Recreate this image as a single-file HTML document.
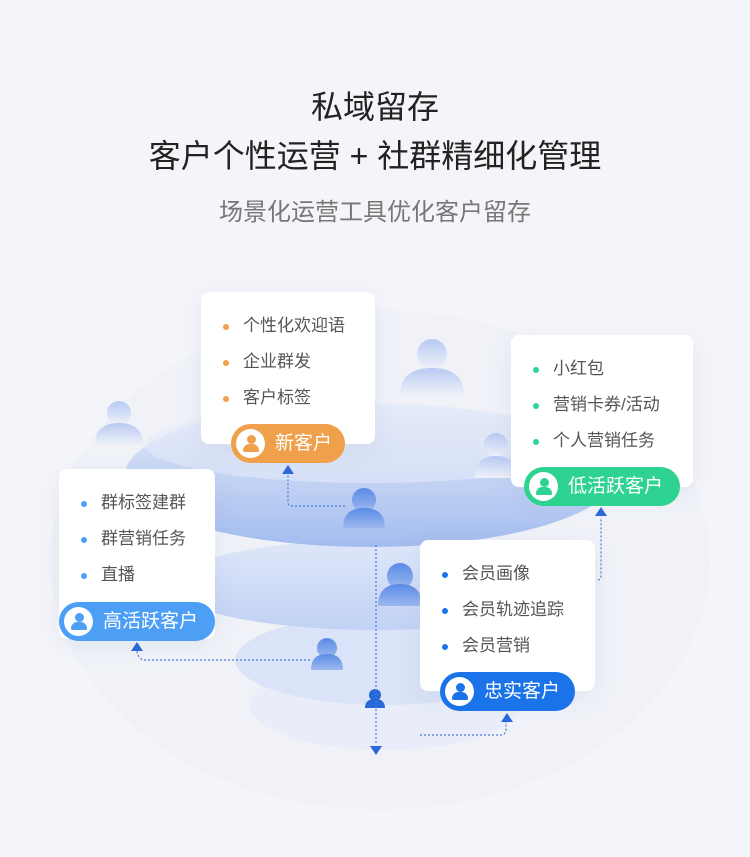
<!DOCTYPE html>
<html><head><meta charset="utf-8"><style>
body{margin:0;width:750px;height:857px;background:#f4f5f9;font-family:"Liberation Sans","Noto Sans CJK SC",sans-serif;position:relative;overflow:hidden}
.t{position:absolute;left:0;width:750px;text-align:center;color:#222}
.card{position:absolute;background:#fff;border-radius:8px;box-shadow:0 6px 24px rgba(120,140,190,.12)}
.card ul{list-style:none;margin:0;padding:0;position:absolute;left:22px;top:22px}
.card li{font-size:17px;color:#555;height:36px;line-height:24px;position:relative;padding-left:20px}
.card li:before{content:"";position:absolute;left:0;top:10px;width:6px;height:6px;border-radius:50%;background:var(--c)}
.badge{position:absolute;height:39px;border-radius:20px;color:#fff;font-size:19px;line-height:39px;box-sizing:border-box;padding-left:44px}
.badge i{position:absolute;left:5px;top:5px;width:29px;height:29px;border-radius:50%;background:#fff}
.badge i:before{content:"";position:absolute;left:11px;top:6px;width:9px;height:9px;border-radius:50%;background:var(--c)}
.badge i:after{content:"";position:absolute;left:7px;top:15px;width:16px;height:8px;border-radius:8px 8px 2px 2px;background:var(--c)}
</style></head><body>
<svg width="750" height="857" style="position:absolute;left:0;top:0">
<defs>
<linearGradient id="g1" x1="0" y1="0" x2="0" y2="1"><stop offset="0" stop-color="#e8edf9"/><stop offset="1" stop-color="#a3bcef"/></linearGradient>
<linearGradient id="g2" x1="0" y1="0" x2="0" y2="1"><stop offset="0" stop-color="#dfe7f9"/><stop offset="1" stop-color="#c2d2f4"/></linearGradient>
<linearGradient id="p" x1="0" y1="0" x2="0" y2="1"><stop offset="0" stop-color="#5a8be6"/><stop offset="1" stop-color="#9db8ef"/></linearGradient>
<linearGradient id="pl" x1="0" y1="0" x2="0" y2="1"><stop offset="0" stop-color="#b8caf2"/><stop offset="1" stop-color="#eef1f9"/></linearGradient>
</defs>
<ellipse cx="380" cy="560" rx="330" ry="250" fill="#f0f2f8"/>
<ellipse cx="385" cy="705" rx="135" ry="45" fill="#e8edf9"/>
<ellipse cx="385" cy="660" rx="150" ry="45" fill="#dae3f7"/>
<ellipse cx="375" cy="585" rx="205" ry="45" fill="url(#g2)"/>
<ellipse cx="370" cy="475" rx="245" ry="72" fill="url(#g1)"/>
<ellipse cx="370" cy="445" rx="225" ry="38" fill="#e3eaf9" opacity=".6"/>
<g fill="url(#pl)"><circle cx="119" cy="413" r="12"/><path d="M95 445q0-22 24-22t24 22z"/>
<circle cx="432" cy="354" r="15"/><path d="M400 395q0-27 32-27t32 27z"/>
<circle cx="496" cy="445" r="12"/><path d="M475 478q0-22 21-22t21 22z"/></g>
<g fill="url(#p)"><circle cx="364" cy="500" r="12"/><path d="M343 528q0-20 21-20t21 20z"/>
<circle cx="400" cy="576" r="13"/><path d="M378 606q0-22 22-22t22 22z"/>
<circle cx="327" cy="648" r="10"/><path d="M311 670q0-16 16-16t16 16z"/></g>
<g fill="#2568d8"><circle cx="375" cy="695" r="6"/><path d="M365 708q0-9 10-9t10 9z"/></g>
<g stroke="#4a7de0" stroke-width="1.2" stroke-dasharray="2,2" fill="none">
<path d="M345 506H292q-4 0-4-4V472"/>
<path d="M376 545V745"/>
<path d="M420 735H500q6 0 6-6V722"/>
<path d="M310 660H145q-6 0-8-8V648"/>
<path d="M598 580q3 0 3-6V517"/>
</g>
<g fill="#2a68db"><path d="M282 474l6-9 6 9z"/><path d="M370 746l6 9 6-9z"/><path d="M501 722l6-9 6 9z"/><path d="M131 651l6-9 6 9z"/><path d="M595 516l6-9 6 9z"/></g>
</svg>
<div class="t" style="top:82px;font-size:32px">私域留存</div>
<div class="t" style="top:131px;font-size:32px">客户个性运营 + 社群精细化管理</div>
<div class="t" style="top:192px;font-size:24px;color:#777">场景化运营工具优化客户留存</div>

<div class="card" style="left:201px;top:292px;width:174px;height:152px;--c:#f0a04b"><ul><li>个性化欢迎语</li><li>企业群发</li><li>客户标签</li></ul></div>
<div class="badge" style="left:231px;top:424px;width:114px;background:#f0a04b;--c:#f0a04b"><i></i>新客户</div>

<div class="card" style="left:511px;top:335px;width:182px;height:152px;--c:#2ed392"><ul><li>小红包</li><li>营销卡券/活动</li><li>个人营销任务</li></ul></div>
<div class="badge" style="left:524px;top:467px;width:156px;background:#2ed392;--c:#2ed392"><i></i>低活跃客户</div>

<div class="card" style="left:59px;top:469px;width:156px;height:170px;--c:#4d9ef5"><ul><li>群标签建群</li><li>群营销任务</li><li>直播</li></ul></div>
<div class="badge" style="left:59px;top:602px;width:156px;background:#4d9ef5;--c:#4d9ef5"><i></i>高活跃客户</div>

<div class="card" style="left:420px;top:540px;width:175px;height:151px;--c:#1a73e8"><ul><li>会员画像</li><li>会员轨迹追踪</li><li>会员营销</li></ul></div>
<div class="badge" style="left:440px;top:672px;width:135px;background:#1a73e8;--c:#1a73e8"><i></i>忠实客户</div>
</body></html>
